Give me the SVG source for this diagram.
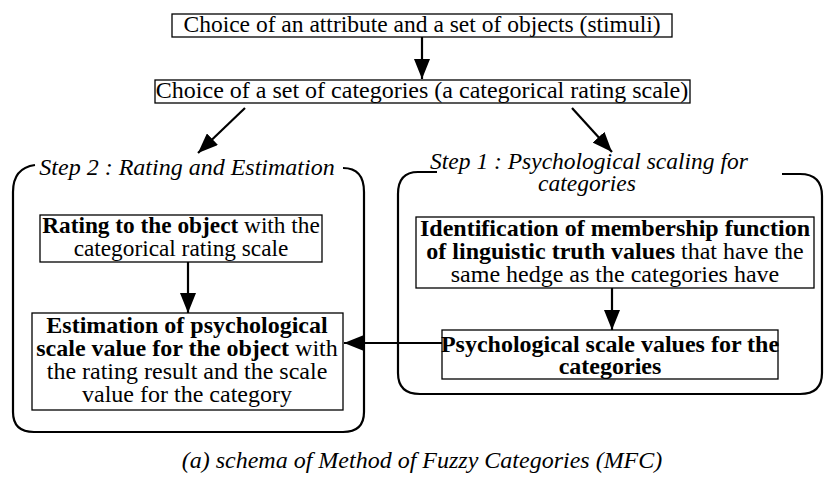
<svg xmlns="http://www.w3.org/2000/svg" width="825" height="482" viewBox="0 0 825 482">
<defs>
<marker id="ah" viewBox="0 0 20 16" refX="20" refY="8" markerWidth="20" markerHeight="16" markerUnits="userSpaceOnUse" orient="auto">
<path d="M0,0 L20,8 L0,16 z" fill="#000"/>
</marker>
<style>
text{font-family:"Liberation Serif","Times New Roman",serif;font-size:24px;fill:#000;text-anchor:middle}
.b{font-weight:bold}
.i{font-style:italic}
.box{fill:#fff;stroke:#000;stroke-width:1.3}
.grp{fill:none;stroke:#000;stroke-width:2.2}
.con{fill:none;stroke:#000;stroke-width:2.2;marker-end:url(#ah)}
</style>
</defs>
<rect width="825" height="482" fill="#fff"/>
<g id="group-step2">
<path class="grp" d="M35,165 Q13,168 13,192 L13,412 Q13,432 34,432 L343,432 Q364,432 364,412 L364,192 Q364,168 343,168"/>
<text class="i" x="187" y="175">Step 2 : Rating and Estimation</text>
</g>
<g id="group-step1">
<path class="grp" d="M437,172 L418,172 Q398,172 398,194 L398,373 Q398,394 420,394 L800,394 Q822,394 822,373 L822,196 Q822,174 800,174 L782,174"/>
<text class="i" style="font-size:23.5px"><tspan x="589" y="169">Step 1 : Psychological scaling for</tspan><tspan x="587" y="191">categories</tspan></text>
</g>
<g id="connectors">
<line class="con" x1="422" y1="37" x2="422" y2="79"/>
<line class="con" x1="245" y1="108" x2="198" y2="153"/>
<line class="con" x1="572" y1="108" x2="612" y2="152"/>
<line class="con" x1="188" y1="262" x2="188" y2="313"/>
<line class="con" x1="612" y1="288" x2="612" y2="330"/>
<line class="con" x1="442" y1="343" x2="344" y2="343"/>
</g>
<g id="node-attribute">
<rect class="box" x="172" y="14" width="500" height="23"/>
<text x="422" y="32" style="font-size:23.5px">Choice of an attribute and a set of objects (stimuli)</text>
</g>
<g id="node-categories">
<rect class="box" x="155" y="80" width="535" height="23"/>
<text x="422" y="98">Choice of a set of categories (a categorical rating scale)</text>
</g>
<g id="node-rating">
<rect class="box" x="40" y="215" width="282" height="47"/>
<text style="font-size:23.3px"><tspan x="181" y="233"><tspan class="b">Rating to the object</tspan> with the</tspan><tspan x="181" y="256">categorical rating scale</tspan></text>
</g>
<g id="node-estimation">
<rect class="box" x="32" y="313" width="311" height="97"/>
<text><tspan class="b" x="187" y="333">Estimation of psychological</tspan><tspan x="187" y="356"><tspan class="b">scale value for the object</tspan> with</tspan><tspan x="187" y="379">the rating result and the scale</tspan><tspan x="187" y="402">value for the category</tspan></text>
</g>
<g id="node-identification">
<rect class="box" x="416" y="217" width="398" height="71"/>
<text><tspan class="b" x="615" y="236">Identification of membership function</tspan><tspan x="615" y="259"><tspan class="b">of linguistic truth values</tspan> that have the</tspan><tspan x="615" y="282">same hedge as the categories have</tspan></text>
</g>
<g id="node-psych">
<rect class="box" x="442" y="330" width="336" height="49"/>
<text class="b"><tspan x="610" y="352">Psychological scale values for the</tspan><tspan x="610" y="374">categories</tspan></text>
</g>
<text class="i" x="422" y="468">(a) schema of Method of Fuzzy Categories (MFC)</text>
</svg>
